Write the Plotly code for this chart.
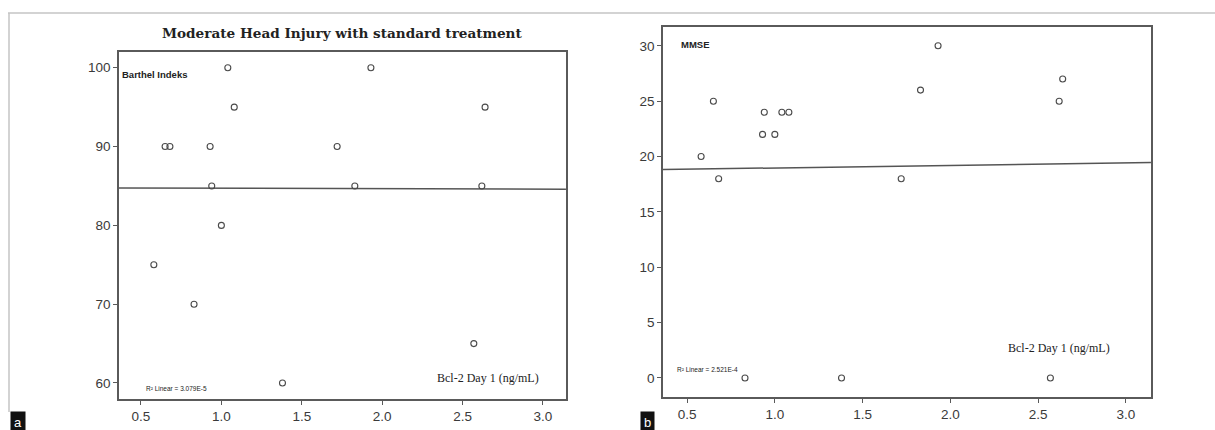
import numpy as np
import plotly.graph_objects as go

# Bcl-2 on day 1 (ng/mL) for each patient
bcl2_day1 = [0.58, 0.65, 0.68, 0.83, 0.93, 0.94, 1.00, 1.04, 1.08,
             1.38, 1.72, 1.83, 1.93, 2.57, 2.62, 2.64]
# Barthel index per patient (panel a)
barthel = [75, 90, 90, 70, 90, 85, 80, 100, 95, 60, 90, 85, 100, 65, 85, 95]
# MMSE score per patient (panel b)
mmse = [20, 25, 18, 0, 22, 24, 22, 24, 24, 0, 18, 26, 30, 0, 25, 27]

x_ticks = [0.5, 1.0, 1.5, 2.0, 2.5, 3.0]
barthel_ticks = [60, 70, 80, 90, 100]
mmse_ticks = [0, 5, 10, 15, 20, 25, 30]

r2_barthel = "R² Linear = 3.079E-5"
r2_mmse = "R² Linear = 2.521E-4"

X_RANGE = [0.363, 3.143]
AXIS_COL = "#5a5a5a"
MARK_COL = "#4a4a4a"

fig = go.Figure()


def add_panel(y, xa, ya):
    x = np.array(bcl2_day1)
    yv = np.array(y)
    slope, intercept = np.polyfit(x, yv, 1)
    xs = np.array(X_RANGE)
    fig.add_trace(go.Scatter(
        x=xs, y=slope * xs + intercept, mode="lines",
        line=dict(color="#555555", width=1.5),
        xaxis=xa, yaxis=ya, showlegend=False, hoverinfo="skip"))
    fig.add_trace(go.Scatter(
        x=x, y=yv, mode="markers",
        marker=dict(symbol="circle-open", size=6, color=MARK_COL,
                    line=dict(width=1.1, color=MARK_COL)),
        xaxis=xa, yaxis=ya, showlegend=False))


add_panel(barthel, "x", "y")
add_panel(mmse, "x2", "y2")

axis_common = dict(
    showline=True, mirror=True, linecolor=AXIS_COL, linewidth=1.6,
    showgrid=False, zeroline=False, ticks="outside", ticklen=4,
    tickcolor=AXIS_COL, tickwidth=1,
    tickfont=dict(family="Liberation Sans, Arial, sans-serif", size=13.5,
                  color="#3a3a3a"),
)

fig.update_layout(
    width=1215, height=430,
    margin=dict(l=0, r=0, t=0, b=0),
    paper_bgcolor="white", plot_bgcolor="white",
    xaxis=dict(domain=[0.0979, 0.4658], range=X_RANGE, anchor="y",
               tickvals=x_ticks, tickformat=".1f", **axis_common),
    yaxis=dict(domain=[0.0721, 0.8791], range=[57.97, 102.0], anchor="x",
               tickvals=barthel_ticks, **axis_common),
    xaxis2=dict(domain=[0.5457, 0.9473], range=X_RANGE, anchor="y2",
                tickvals=x_ticks, tickformat=".1f", **axis_common),
    yaxis2=dict(domain=[0.0767, 0.9372], range=[-1.72, 31.7], anchor="x2",
                tickvals=mmse_ticks, **axis_common),
)

serif = "Liberation Serif, Times New Roman, serif"
wide_serif = "DejaVu Serif, serif"
sans = "Liberation Sans, Arial, sans-serif"


def px(xp, yp):
    return xp / 1215, 1 - yp / 430


annotations = []


def note(text, xp, yp, size, family, bold=False, xanchor="left",
         color="#222222", bg=None, pad=1):
    ax, ay = px(xp, yp)
    annotations.append(dict(
        text=f"<b>{text}</b>" if bold else text,
        x=ax, y=ay, xref="paper", yref="paper", xanchor=xanchor,
        yanchor="middle", showarrow=False, borderpad=pad,
        font=dict(family=family, size=size, color=color),
        bgcolor=bg))


note("Moderate Head Injury with standard treatment", 342, 33, 13.6,
     wide_serif, bold=True, xanchor="center")
note("Barthel Indeks", 120, 75, 9.5, sans, bold=True)
note("MMSE", 679, 45, 9.5, sans, bold=True)
note("Bcl-2 Day 1 (ng/mL)", 435, 378, 12, serif)
note("Bcl-2 Day 1 (ng/mL)", 1006, 348, 12, serif)
note(r2_barthel, 144, 388, 6.5, sans)
note(r2_mmse, 675, 369, 6.5, sans)
note("a", 10, 422, 13, sans, color="white", bg="#111111", pad=3)
note("b", 640, 422, 13, sans, color="white", bg="#111111", pad=3)
fig.update_layout(annotations=annotations)

# outer frame of the figure panel
fig.add_shape(type="line", xref="paper", yref="paper",
              x0=8 / 1215, x1=1.0, y0=1 - 13 / 430, y1=1 - 13 / 430,
              line=dict(color="#c4c4c4", width=1.5))
fig.add_shape(type="line", xref="paper", yref="paper",
              x0=9 / 1215, x1=9 / 1215, y0=1 - 13 / 430, y1=1 - 412 / 430,
              line=dict(color="#c4c4c4", width=1.5))

fig.write_html("out.html")
